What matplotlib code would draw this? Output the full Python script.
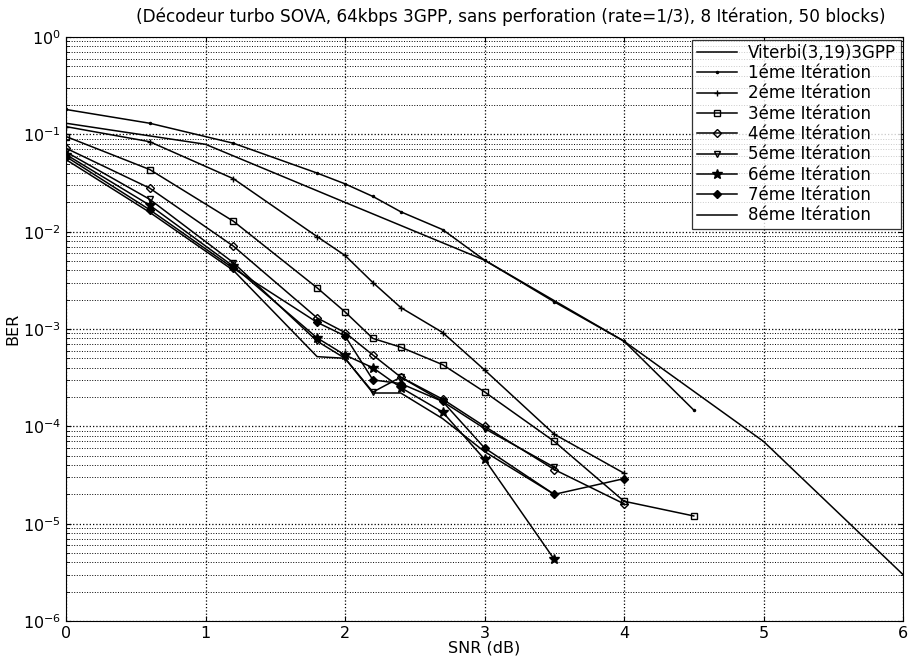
import matplotlib
matplotlib.use("Agg")
import matplotlib.pyplot as plt
from matplotlib.ticker import NullFormatter, LogLocator

# ---------------- data ----------------
snr_vit = [0, 1, 2, 3, 4, 5, 6]
ber_vit = [0.13, 0.079, 0.020, 0.0051, 0.00075, 0.00007, 0.000003]

snr_it = [0, 0.6, 1.2, 1.8, 2.0, 2.2, 2.4, 2.7, 3.0, 3.5, 4.0, 4.5]
ber_it1 = [0.18, 0.13, 0.081, 0.040, 0.031, 0.023, 0.016, 0.0105, 0.0051, 0.0019, 0.00075, 0.000147]
ber_it2 = [0.12, 0.084, 0.035, 0.0089, 0.0057, 0.0030, 0.00166, 0.00092, 0.00038, 0.000083, 0.000033]
ber_it3 = [0.095, 0.0435, 0.0128, 0.00265, 0.0015, 0.0008, 0.00065, 0.00043, 0.000226, 0.00007, 0.000017, 0.0000120]
ber_it4 = [0.072, 0.028, 0.0071, 0.0013, 0.00092, 0.00054, 0.00032, 0.00019, 0.0001, 0.000036, 0.0000160]
ber_it5 = [0.066, 0.0215, 0.0048, 0.00075, 0.0005, 0.000225, 0.00032, 0.00018, 0.000095, 0.000038]
ber_it6 = [0.062, 0.0187, 0.0044, 0.00081, 0.00054, 0.0004, 0.00025, 0.00014, 0.000046, 0.0000043]
ber_it7 = [0.059, 0.0168, 0.0042, 0.00117, 0.00085, 0.0003, 0.000275, 0.00018, 0.00006, 0.00002, 0.000029]
ber_it8 = [0.055, 0.0158, 0.0040, 0.00052, 0.0005, 0.00022, 0.00022, 0.00012, 0.000055, 0.00002]

yticks = [1e-6, 1e-5, 1e-4, 1e-3, 1e-2, 1e-1, 1e0]
xticks = [0, 1, 2, 3, 4, 5, 6]
labels = ["Viterbi(3,19)3GPP", "1éme Itération", "2éme Itération", "3éme Itération",
          "4éme Itération", "5éme Itération", "6éme Itération", "7éme Itération",
          "8éme Itération"]
title = "(Décodeur turbo SOVA, 64kbps 3GPP, sans perforation (rate=1/3), 8 Itération, 50 blocks)"

# ---------------- plot ----------------
plt.rcParams['font.family'] = ['DejaVu Sans']
plt.rcParams['mathtext.default'] = 'regular'
fig = plt.figure(figsize=(9.08, 6.56), dpi=100)
ax = fig.add_axes([66/908, 1-621/656, (903-66)/908, (621-37)/656])

k = dict(color='black', lw=1.1)
ax.semilogy(snr_vit, ber_vit, label=labels[0], **k)
iters = [ber_it1, ber_it2, ber_it3, ber_it4, ber_it5, ber_it6, ber_it7, ber_it8]
markers = ['.', '+', 's', 'D', 'v', '*', 'D', None]
msizes = [3, 5, 5, 4, 5, 7, 4, 0]
mfcs = ['black', 'black', 'none', 'none', 'none', 'black', 'black', 'black']
for i, (b, m, ms, fc) in enumerate(zip(iters, markers, msizes, mfcs)):
    ax.semilogy(snr_it[:len(b)], b, marker=m, ms=ms, mfc=fc, mec='black',
                mew=1.0, label=labels[i+1], **k)

ax.set_xlim(0, 6)
ax.set_ylim(1e-6, 1)
ax.set_xticks(xticks)
ax.set_yticks(yticks)
ax.yaxis.set_minor_locator(LogLocator(base=10, subs=range(2, 10), numticks=20))
ax.yaxis.set_minor_formatter(NullFormatter())
ax.grid(True, which='major', axis='both', ls=':', color='black', lw=0.9)
ax.grid(True, which='minor', axis='y', ls=':', color='black', lw=0.7)
ax.tick_params(direction='in', which='both', top=True, right=True, labelsize=11.5)
ax.set_xlabel("SNR (dB)", fontsize=11.5, labelpad=0)
ax.set_ylabel("BER", fontsize=11.5, labelpad=2)
fig.text(511/908, 1-17/656, title, fontsize=12.2, ha='center', va='center')
for s in ax.spines.values():
    s.set_color('black')
leg = ax.legend(loc='upper right', fontsize=12, frameon=True, fancybox=False,
                edgecolor='black', borderaxespad=0.15, handlelength=2.4,
                labelspacing=0.14, borderpad=0.25, handletextpad=0.7)
leg.get_frame().set_linewidth(0.9)
fig.savefig("out.png", dpi=100)
